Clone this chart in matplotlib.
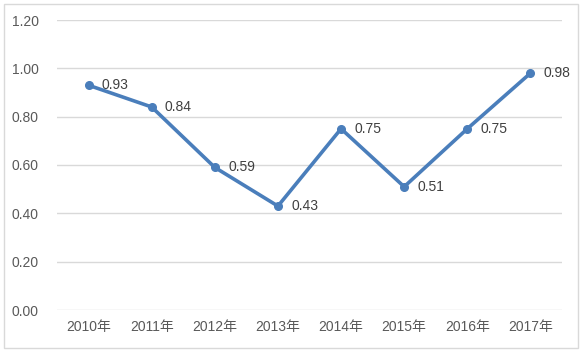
import matplotlib.pyplot as plt
from matplotlib.patches import Rectangle

plt.rcParams['font.family'] = ['Liberation Sans', 'Noto Sans CJK SC', 'DejaVu Sans']

years = ['2010年', '2011年', '2012年', '2013年', '2014年', '2015年', '2016年', '2017年']
values = [0.93, 0.84, 0.59, 0.43, 0.75, 0.51, 0.75, 0.98]
yticks = [0.0, 0.2, 0.4, 0.6, 0.8, 1.0, 1.2]

text_color = '#595959'
line_color = '#4a7ebb'

fig = plt.figure(figsize=(5.84, 3.53), dpi=100)
ax = fig.add_axes([57 / 584, 43 / 353, 505 / 584, 290 / 353])

x = list(range(len(years)))
ax.plot(x, values, color=line_color, linewidth=2.6, marker='o', markersize=5.5,
        solid_capstyle='round', zorder=3)
for xi, v in zip(x, values):
    ax.annotate(f'{v:.2f}', (xi, v), xytext=(9.5, 0), textcoords='offset points',
                ha='left', va='center', fontsize=10, color='#404040')

ax.set_xlim(-0.5, len(years) - 0.5)
ax.set_ylim(0, 1.2)
ax.set_yticks(yticks)
ax.set_yticklabels([f'{t:.2f}' for t in yticks])
ax.set_xticks(x)
ax.set_xticklabels(years)
ax.tick_params(axis='both', length=0, labelsize=10, colors=text_color)
ax.tick_params(axis='y', pad=13)
ax.tick_params(axis='x', pad=7)
ax.yaxis.grid(True, color='#d9d9d9', linewidth=1)
ax.set_axisbelow(True)
for s in ax.spines.values():
    s.set_visible(False)

# chart border
fig.patches.append(Rectangle((4 / 584, 5 / 353), 574 / 584, 344 / 353,
                             transform=fig.transFigure, fill=False,
                             edgecolor='#d9d9d9', linewidth=1))

fig.savefig('out.png', dpi=100)
